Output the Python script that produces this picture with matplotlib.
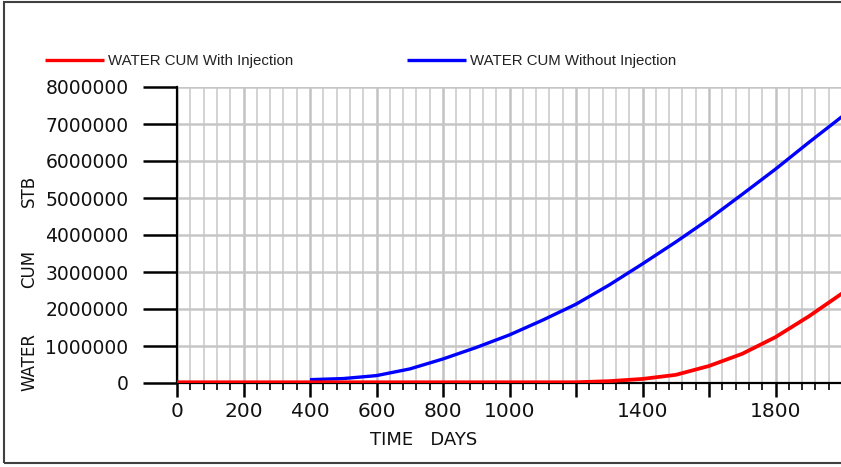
import matplotlib
matplotlib.use("Agg")
import matplotlib.pyplot as plt
from matplotlib.patches import Rectangle
from matplotlib.ticker import MultipleLocator, FixedLocator, FixedFormatter

# ---- data ----
days_with = [0, 100, 200, 300, 400, 500, 600, 700, 800, 900, 1000, 1100, 1200,
             1300, 1400, 1500, 1600, 1700, 1800, 1900, 2000]
cum_with = [0.02, 0.02, 0.02, 0.02, 0.02, 0.02, 0.02, 0.02, 0.02, 0.02, 0.02, 0.02, 0.02,
            0.05, 0.11, 0.22, 0.46, 0.79, 1.24, 1.80, 2.42]  # million STB

days_without = [400, 500, 600, 700, 800, 900, 1000, 1100, 1200, 1300, 1400, 1500,
                1600, 1700, 1800, 1900, 2000]
cum_without = [0.09, 0.12, 0.20, 0.38, 0.65, 0.96, 1.30, 1.70, 2.13, 2.65, 3.22, 3.81,
               4.43, 5.10, 5.78, 6.50, 7.20]  # million STB

x_tick_values = [0, 200, 400, 600, 800, 1000, 1200, 1400, 1600, 1800, 2000]
x_tick_labels = ["0", "200", "400", "600", "800", "1000", "", "1400", "", "1800", ""]
y_tick_values = [0, 1000000, 2000000, 3000000, 4000000, 5000000, 6000000, 7000000, 8000000]
y_tick_labels = [str(v) for v in y_tick_values]

label_with = "WATER CUM With Injection"
label_without = "WATER CUM Without Injection"

W, H = 841, 467
fig = plt.figure(figsize=(W / 100, H / 100), dpi=100)
fig.patch.set_facecolor("white")

left, right, top, bottom = 177, 842, 87, 383
ax = fig.add_axes([left / W, 1 - bottom / H, (right - left) / W, (bottom - top) / H])

ax.plot(days_without, [v * 1e6 for v in cum_without], color="#0000ff", lw=2.4,
        solid_capstyle="butt", zorder=3, label=label_without)
ax.plot(days_with, [v * 1e6 for v in cum_with], color="#ff0000", lw=2.7,
        solid_capstyle="butt", zorder=4, label=label_with)

ax.set_xlim(0, 2000)
ax.set_ylim(0, 8000000)

ax.xaxis.set_major_locator(FixedLocator(x_tick_values))
ax.xaxis.set_major_formatter(FixedFormatter(x_tick_labels))
ax.xaxis.set_minor_locator(MultipleLocator(40))
ax.yaxis.set_major_locator(FixedLocator(y_tick_values))
ax.yaxis.set_major_formatter(FixedFormatter(y_tick_labels))

ax.grid(which="major", axis="x", color="#c2c2c2", lw=1.8, zorder=0)
ax.grid(which="minor", axis="x", color="#d0d0d0", lw=1.3, zorder=0)
ax.grid(which="major", axis="y", color="#c6c6c6", lw=1.8, zorder=0)
ax.set_axisbelow(True)

for s in ["top", "right"]:
    ax.spines[s].set_visible(False)
ax.spines["left"].set_linewidth(1.6)
ax.spines["bottom"].set_linewidth(1.6)
ax.spines["left"].set_color("black")
ax.spines["bottom"].set_color("black")

ax.tick_params(axis="y", which="major", direction="out", length=24.5, width=1.8,
               pad=10.5, labelsize=13.5, labelcolor="#111111")
ax.tick_params(axis="x", which="major", direction="out", length=10, width=1.8,
               pad=3.5, labelsize=14.5, labelcolor="#111111")
ax.tick_params(axis="x", which="minor", direction="out", length=5, width=1.2)
for lab in ax.get_yticklabels() + ax.get_xticklabels():
    lab.set_family("DejaVu Sans")

# axis titles
fig.text(424 / W, 1 - 440 / H, "TIME   DAYS", ha="center", va="center",
         fontsize=13, color="#111111", family="DejaVu Sans")
for word, yc in [("WATER", 362), ("CUM", 269), ("STB", 191)]:
    fig.text(29 / W, 1 - yc / H, word, ha="center", va="center", rotation=90,
             fontsize=12, color="#111111", family="DejaVu Sans")

# legend
handles, labels = ax.get_legend_handles_labels()
leg = fig.legend(handles[::-1], labels[::-1], loc="center left",
                 bbox_to_anchor=(45 / W, 1 - 61 / H), ncol=2, frameon=False,
                 borderpad=0, borderaxespad=0, handlelength=3.9, handletextpad=0.3,
                 columnspacing=7.6, prop={"family": "Liberation Sans", "size": 10.8})
for t in leg.get_texts():
    t.set_color("#222222")
for l in leg.get_lines():
    l.set_linewidth(2.4)

# outer frame
fig.add_artist(Rectangle((3.5 / W, 1 - 463 / H), 1.2, (463 - 1.5) / H,
                         transform=fig.transFigure, fill=False,
                         edgecolor="#404040", lw=1.5, clip_on=False))

fig.savefig("out.png", dpi=100, facecolor="white")
